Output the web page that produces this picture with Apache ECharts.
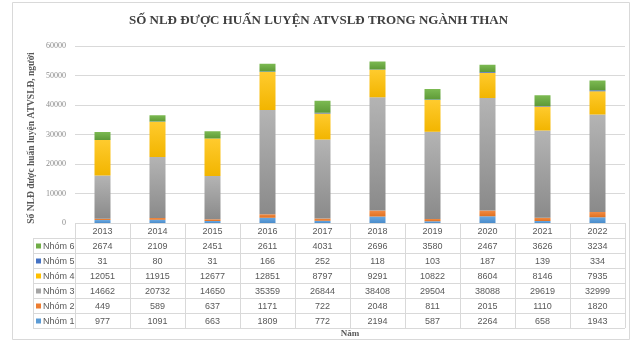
<!DOCTYPE html>
<html>
<head>
<meta charset="utf-8">
<script src="https://cdn.jsdelivr.net/npm/echarts@6/dist/echarts.min.js"></script>
<style>
html, body { margin: 0; padding: 0; background: #fff; }
#main { width: 637px; height: 344px; }
</style>
</head>
<body>
<div id="main"></div>
<script>
var years = ['2013', '2014', '2015', '2016', '2017', '2018', '2019', '2020', '2021', '2022'];
var nhom1 = [977, 1091, 663, 1809, 772, 2194, 587, 2264, 658, 1943];
var nhom2 = [449, 589, 637, 1171, 722, 2048, 811, 2015, 1110, 1820];
var nhom3 = [14662, 20732, 14650, 35359, 26844, 38408, 29504, 38088, 29619, 32999];
var nhom4 = [12051, 11915, 12677, 12851, 8797, 9291, 10822, 8604, 8146, 7935];
var nhom5 = [31, 80, 31, 166, 252, 118, 103, 187, 139, 334];
var nhom6 = [2674, 2109, 2451, 2611, 4031, 2696, 3580, 2467, 3626, 3234];

var groupNames = ['Nhóm 1', 'Nhóm 2', 'Nhóm 3', 'Nhóm 4', 'Nhóm 5', 'Nhóm 6'];
var groupData = [nhom1, nhom2, nhom3, nhom4, nhom5, nhom6];
// top / bottom colours of each bar segment (excel-like gradient)
var colTop = ['#6aa8e0', '#f28c45', '#b4b4b4', '#ffcb2e', '#4f7fd0', '#7cba52'];
var colBot = ['#4a8ccb', '#e0701f', '#8a8a8a', '#f2b500', '#3a62b0', '#5e9a38'];
var keyCol = ['#5b9bd5', '#ed7d31', '#a5a5a5', '#ffc000', '#4472c4', '#70ad47'];

var chart = echarts.init(document.getElementById('main'));

var series = []
for (var i = 0; i < groupNames.length; i++) {
	series.push({
		name: groupNames[i],
		type: 'bar',
		stack: 'total',
		barWidth: 16,
		itemStyle: {
			color: new echarts.graphic.LinearGradient(0, 0, 0, 1, [
				{ offset: 0, color: colTop[i] },
				{ offset: 1, color: colBot[i] }
			])
		},
		data: groupData[i]
	})
}

var option = {
	backgroundColor: '#fff',
	animation: false,
	title: {
		text: 'SỐ NLĐ ĐƯỢC HUẤN LUYỆN ATVSLĐ TRONG NGÀNH THAN',
		left: 'center',
		top: 9,
		textStyle: {
			fontFamily: 'Liberation Serif',
			fontWeight: 'bold',
			fontSize: 13,
			color: '#404040'
		}
	},
	grid: {
		left: 75,
		right: 12,
		top: 46,
		bottom: 121
	},
	xAxis: {
		type: 'category',
		data: years,
		axisLine: { show: false },
		axisTick: { show: false },
		axisLabel: { show: false }
	},
	yAxis: {
		type: 'value',
		min: 0,
		max: 60000,
		interval: 10000,
		axisLabel: {
			fontFamily: 'Liberation Serif',
			fontSize: 8,
			color: '#8c8c8c',
			margin: 9,
			formatter: function (v) { return String(v); }
		},
		splitLine: { lineStyle: { color: '#d9d9d9' } }
	},
	series: series
};

chart.setOption(option);

// data table below the plot
function buildTable() {
	var g = [];
	var top = 223, rowH = 15;
	var step = chart.convertToPixel({ xAxisIndex: 0 }, years[1]) - chart.convertToPixel({ xAxisIndex: 0 }, years[0]);
	var left = chart.convertToPixel({ xAxisIndex: 0 }, years[0]) - step / 2;
	var right = left + step * years.length;
	var lineStyle = { stroke: '#d9d9d9', lineWidth: 1 };
	var txt = { fontFamily: 'Liberation Sans', fontSize: 9, fill: '#595959' };

	// outer frame
	g.push({ type: 'rect', shape: { x: 12.5, y: 2.5, width: 617, height: 337 }, style: { fill: 'none', stroke: '#d9d9d9' }, silent: true });

	// horizontal lines
	for (var r = 0; r <= 7; r++) {
		var y = top + r * rowH + 0.5;
		g.push({ type: 'line', shape: { x1: r === 0 ? left : 33, y1: y, x2: right, y2: y }, style: lineStyle });
	}
	// vertical lines
	g.push({ type: 'line', shape: { x1: 33.5, y1: top + rowH, x2: 33.5, y2: top + 7 * rowH }, style: lineStyle });
	for (var c = 0; c <= years.length; c++) {
		var x = Math.round(left + c * step) + 0.5;
		g.push({ type: 'line', shape: { x1: x, y1: top, x2: x, y2: top + 7 * rowH }, style: lineStyle });
	}
	// header years
	for (var c = 0; c < years.length; c++) {
		var cx = chart.convertToPixel({ xAxisIndex: 0 }, years[c]);
		g.push({ type: 'text', x: cx, y: top + rowH / 2 + 1, style: Object.assign({ text: years[c], align: 'center', verticalAlign: 'middle' }, txt) });
	}
	// rows: Nhóm 6 on top down to Nhóm 1
	for (var r = 0; r < 6; r++) {
		var k = 5 - r;
		var cy = top + (r + 1) * rowH + rowH / 2 + 1;
		g.push({ type: 'rect', shape: { x: 36, y: cy - 3, width: 5, height: 5 }, style: { fill: keyCol[k] } });
		g.push({ type: 'text', x: 43, y: cy, style: Object.assign({ text: groupNames[k], align: 'left', verticalAlign: 'middle' }, txt) });
		for (var c = 0; c < years.length; c++) {
			var cx = chart.convertToPixel({ xAxisIndex: 0 }, years[c]);
			g.push({ type: 'text', x: cx, y: cy, style: Object.assign({ text: String(groupData[k][c]), align: 'center', verticalAlign: 'middle' }, txt) });
		}
	}
	// axis titles
	g.push({ type: 'text', x: 350, y: 334, style: { text: 'Năm', align: 'center', verticalAlign: 'middle', fontFamily: 'Liberation Serif', fontWeight: 'bold', fontSize: 9, fill: '#595959' } });
	g.push({ type: 'text', x: 32, y: 138, rotation: Math.PI / 2, style: { text: 'Số NLĐ được huấn luyện ATVSLĐ, người', align: 'center', verticalAlign: 'middle', fontFamily: 'Liberation Serif', fontWeight: 'bold', fontSize: 9.5, fill: '#595959' } });

	chart.setOption({ graphic: g });
}
buildTable();
</script>
</body>
</html>
